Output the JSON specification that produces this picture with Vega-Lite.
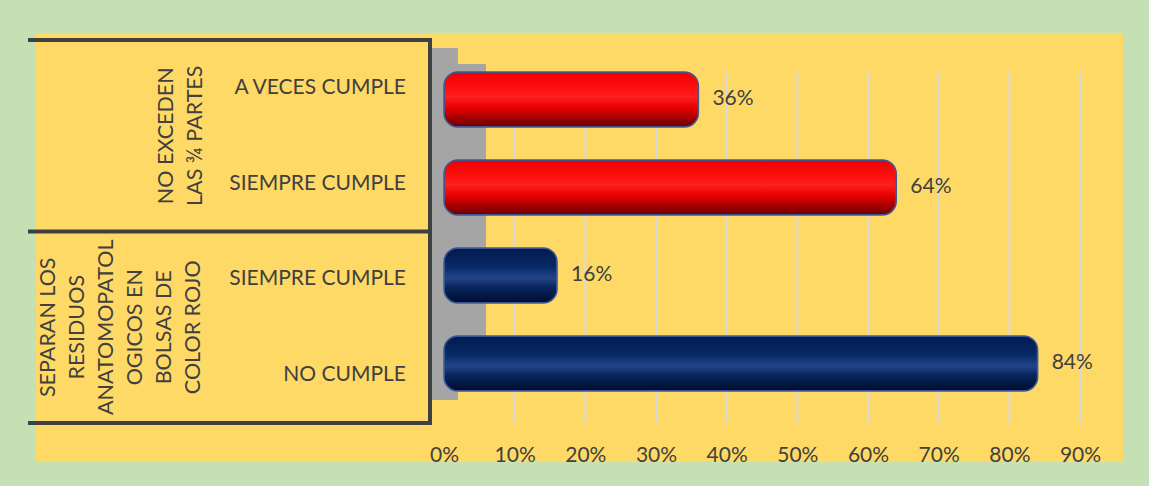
{
  "$schema": "https://vega.github.io/schema/vega-lite/v6.json",
  "width": 1087,
  "height": 429,
  "autosize": {"type": "none"},
  "padding": {"left": 36, "top": 33, "right": 26, "bottom": 24},
  "background": "#c5e0b4",
  "config": {
    "view": {"fill": "#ffd966", "stroke": null},
    "font": "Lato",
    "text": {"font": "Lato", "color": "#404040"},
    "axisX": {"format": ".0%", "title": null, "grid": false, "domain": false, "ticks": false, "tickSize": 0, "labelPadding": 0, "offset": -18, "labelFontSize": 21, "labelColor": "#404040", "labelFont": "Lato", "labelFlush": false, "labelOverlap": false}
  },
  "datasets": {
    "resultados": [
      {"grupo": "NO EXCEDEN LAS ¾ PARTES", "etiqueta": "NO EXCEDEN\nLAS ¾ PARTES", "respuesta": "A VECES CUMPLE", "fila": "NO EXCEDEN – A VECES CUMPLE", "porcentaje": 0.36},
      {"grupo": "NO EXCEDEN LAS ¾ PARTES", "etiqueta": "NO EXCEDEN\nLAS ¾ PARTES", "respuesta": "SIEMPRE CUMPLE", "fila": "NO EXCEDEN – SIEMPRE CUMPLE", "porcentaje": 0.64},
      {"grupo": "SEPARAN LOS RESIDUOS ANATOMOPATOLOGICOS EN BOLSAS DE COLOR ROJO", "etiqueta": "SEPARAN LOS\nRESIDUOS\nANATOMOPATOL\nOGICOS EN\nBOLSAS DE\nCOLOR ROJO", "respuesta": "SIEMPRE CUMPLE", "fila": "SEPARAN – SIEMPRE CUMPLE", "porcentaje": 0.16},
      {"grupo": "SEPARAN LOS RESIDUOS ANATOMOPATOLOGICOS EN BOLSAS DE COLOR ROJO", "etiqueta": "SEPARAN LOS\nRESIDUOS\nANATOMOPATOL\nOGICOS EN\nBOLSAS DE\nCOLOR ROJO", "respuesta": "NO CUMPLE", "fila": "SEPARAN – NO CUMPLE", "porcentaje": 0.84}
    ],
    "marcas": [{"v": 0.1}, {"v": 0.2}, {"v": 0.3}, {"v": 0.4}, {"v": 0.5}, {"v": 0.6}, {"v": 0.7}, {"v": 0.8}, {"v": 0.9}]
  },
  "layer": [
    {
      "layer": [
        {
          "data": {"values": [{}]},
          "mark": {"type": "rect", "fill": "#a5a5a5"},
          "encoding": {
            "x": {"datum": -0.017, "type": "quantitative", "title": null, "scale": {"domain": [-0.5773, 0.9608], "nice": false, "zero": false}},
            "x2": {"datum": 0.0198},
            "y": {"datum": "NO EXCEDEN – A VECES CUMPLE", "type": "nominal", "bandPosition": 0.084, "scale": {"type": "band", "domain": ["NO EXCEDEN – A VECES CUMPLE", "NO EXCEDEN – SIEMPRE CUMPLE", "SEPARAN – SIEMPRE CUMPLE", "SEPARAN – NO CUMPLE"], "paddingInner": 0, "paddingOuter": 0.24, "align": 0.152}, "axis": null},
            "y2": {"datum": "SEPARAN – NO CUMPLE", "bandPosition": 0.76}
          }
        },
        {
          "data": {"values": [{}]},
          "mark": {"type": "rect", "fill": "#a5a5a5"},
          "encoding": {
            "x": {"datum": 0.0198, "type": "quantitative", "title": null, "scale": {"domain": [-0.5773, 0.9608], "nice": false, "zero": false}},
            "x2": {"datum": 0.0594},
            "y": {"datum": "NO EXCEDEN – A VECES CUMPLE", "type": "nominal", "bandPosition": 0.25, "scale": {"type": "band", "domain": ["NO EXCEDEN – A VECES CUMPLE", "NO EXCEDEN – SIEMPRE CUMPLE", "SEPARAN – SIEMPRE CUMPLE", "SEPARAN – NO CUMPLE"], "paddingInner": 0, "paddingOuter": 0.24, "align": 0.152}, "axis": null},
            "y2": {"datum": "SEPARAN – NO CUMPLE", "bandPosition": 0.31}
          }
        },
        {
          "data": {"name": "marcas"},
          "mark": {"type": "rule", "stroke": "#d9d9d9", "strokeWidth": 2},
          "encoding": {
            "x": {"field": "v", "type": "quantitative", "title": null, "scale": {"domain": [-0.5773, 0.9608], "nice": false, "zero": false}},
            "y": {"datum": "NO EXCEDEN – A VECES CUMPLE", "type": "nominal", "bandPosition": 0.334, "scale": {"type": "band", "domain": ["NO EXCEDEN – A VECES CUMPLE", "NO EXCEDEN – SIEMPRE CUMPLE", "SEPARAN – SIEMPRE CUMPLE", "SEPARAN – NO CUMPLE"], "paddingInner": 0, "paddingOuter": 0.24, "align": 0.152}, "axis": null},
            "y2": {"datum": "SEPARAN – NO CUMPLE", "bandPosition": 1}
          }
        },
        {
          "data": {"values": [{}]},
          "mark": {"type": "rule", "stroke": "#404040", "strokeWidth": 4, "strokeCap": "square"},
          "encoding": {
            "x": {"datum": -0.5858, "type": "quantitative", "title": null, "scale": {"domain": [-0.5773, 0.9608], "nice": false, "zero": false}},
            "x2": {"datum": -0.0198},
            "y": {"datum": "NO EXCEDEN – A VECES CUMPLE", "type": "nominal", "bandPosition": 0, "scale": {"type": "band", "domain": ["NO EXCEDEN – A VECES CUMPLE", "NO EXCEDEN – SIEMPRE CUMPLE", "SEPARAN – SIEMPRE CUMPLE", "SEPARAN – NO CUMPLE"], "paddingInner": 0, "paddingOuter": 0.24, "align": 0.152}, "axis": null}
          }
        },
        {
          "data": {"values": [{}]},
          "mark": {"type": "rule", "stroke": "#404040", "strokeWidth": 4, "strokeCap": "square"},
          "encoding": {
            "x": {"datum": -0.5858, "type": "quantitative", "title": null, "scale": {"domain": [-0.5773, 0.9608], "nice": false, "zero": false}},
            "x2": {"datum": -0.0198},
            "y": {"datum": "SEPARAN – SIEMPRE CUMPLE", "type": "nominal", "bandPosition": 0, "scale": {"type": "band", "domain": ["NO EXCEDEN – A VECES CUMPLE", "NO EXCEDEN – SIEMPRE CUMPLE", "SEPARAN – SIEMPRE CUMPLE", "SEPARAN – NO CUMPLE"], "paddingInner": 0, "paddingOuter": 0.24, "align": 0.152}, "axis": null}
          }
        },
        {
          "data": {"values": [{}]},
          "mark": {"type": "rule", "stroke": "#404040", "strokeWidth": 4, "strokeCap": "square"},
          "encoding": {
            "x": {"datum": -0.5858, "type": "quantitative", "title": null, "scale": {"domain": [-0.5773, 0.9608], "nice": false, "zero": false}},
            "x2": {"datum": -0.0198},
            "y": {"datum": "SEPARAN – NO CUMPLE", "type": "nominal", "bandPosition": 1, "scale": {"type": "band", "domain": ["NO EXCEDEN – A VECES CUMPLE", "NO EXCEDEN – SIEMPRE CUMPLE", "SEPARAN – SIEMPRE CUMPLE", "SEPARAN – NO CUMPLE"], "paddingInner": 0, "paddingOuter": 0.24, "align": 0.152}, "axis": null}
          }
        },
        {
          "data": {"values": [{}]},
          "mark": {"type": "rule", "stroke": "#404040", "strokeWidth": 4, "strokeCap": "square"},
          "encoding": {
            "x": {"datum": -0.0198, "type": "quantitative", "title": null, "scale": {"domain": [-0.5773, 0.9608], "nice": false, "zero": false}},
            "y": {"datum": "NO EXCEDEN – A VECES CUMPLE", "type": "nominal", "bandPosition": 0, "scale": {"type": "band", "domain": ["NO EXCEDEN – A VECES CUMPLE", "NO EXCEDEN – SIEMPRE CUMPLE", "SEPARAN – SIEMPRE CUMPLE", "SEPARAN – NO CUMPLE"], "paddingInner": 0, "paddingOuter": 0.24, "align": 0.152}, "axis": null},
            "y2": {"datum": "SEPARAN – NO CUMPLE", "bandPosition": 1}
          }
        },
        {
          "data": {"name": "resultados"},
          "mark": {"type": "text", "align": "right", "baseline": "middle", "fontSize": 21, "font": "Lato", "color": "#404040"},
          "encoding": {
            "x": {"datum": -0.0538, "type": "quantitative", "title": null, "scale": {"domain": [-0.5773, 0.9608], "nice": false, "zero": false}},
            "y": {"field": "fila", "type": "nominal", "scale": {"type": "band", "domain": ["NO EXCEDEN – A VECES CUMPLE", "NO EXCEDEN – SIEMPRE CUMPLE", "SEPARAN – SIEMPRE CUMPLE", "SEPARAN – NO CUMPLE"], "paddingInner": 0, "paddingOuter": 0.24, "align": 0.152}, "axis": null},
            "text": {"field": "respuesta"}
          }
        },
        {
          "data": {"name": "resultados"},
          "transform": [
            {"filter": "datum.grupo === 'NO EXCEDEN LAS ¾ PARTES'"},
            {"window": [{"op": "row_number", "as": "orden"}]},
            {"filter": "datum.orden === 1"}
          ],
          "mark": {"type": "text", "align": "center", "baseline": "bottom", "angle": 270, "fontSize": 21.5, "font": "Lato", "color": "#404040", "lineBreak": "\n", "lineHeight": 29},
          "encoding": {
            "x": {"datum": -0.377, "type": "quantitative", "title": null, "scale": {"domain": [-0.5773, 0.9608], "nice": false, "zero": false}},
            "y": {"field": "fila", "type": "nominal", "bandPosition": 1, "scale": {"type": "band", "domain": ["NO EXCEDEN – A VECES CUMPLE", "NO EXCEDEN – SIEMPRE CUMPLE", "SEPARAN – SIEMPRE CUMPLE", "SEPARAN – NO CUMPLE"], "paddingInner": 0, "paddingOuter": 0.24, "align": 0.152}, "axis": null},
            "text": {"field": "etiqueta"}
          }
        },
        {
          "data": {"name": "resultados"},
          "transform": [
            {"filter": "datum.grupo !== 'NO EXCEDEN LAS ¾ PARTES'"},
            {"window": [{"op": "row_number", "as": "orden"}]},
            {"filter": "datum.orden === 1"}
          ],
          "mark": {"type": "text", "align": "center", "baseline": "bottom", "angle": 270, "fontSize": 21.5, "font": "Lato", "color": "#404040", "lineBreak": "\n", "lineHeight": 29},
          "encoding": {
            "x": {"datum": -0.5439, "type": "quantitative", "title": null, "scale": {"domain": [-0.5773, 0.9608], "nice": false, "zero": false}},
            "y": {"field": "fila", "type": "nominal", "bandPosition": 1, "scale": {"type": "band", "domain": ["NO EXCEDEN – A VECES CUMPLE", "NO EXCEDEN – SIEMPRE CUMPLE", "SEPARAN – SIEMPRE CUMPLE", "SEPARAN – NO CUMPLE"], "paddingInner": 0, "paddingOuter": 0.24, "align": 0.152}, "axis": null},
            "text": {"field": "etiqueta"}
          }
        }
      ]
    },
    {
      "data": {"name": "resultados"},
      "layer": [
        {
          "transform": [{"filter": "datum.grupo === 'NO EXCEDEN LAS ¾ PARTES'"}],
          "mark": {
            "type": "bar", "size": 55, "cornerRadius": 14, "stroke": "#3c5a99", "strokeWidth": 1.5,
            "fill": {"gradient": "linear", "x1": 0, "y1": 0, "x2": 0, "y2": 1, "stops": [
              {"offset": 0, "color": "#f00000"}, {"offset": 0.3, "color": "#ff1010"}, {"offset": 0.45, "color": "#ff2020"}, {"offset": 0.65, "color": "#e80000"}, {"offset": 1, "color": "#6a0000"}]}
          },
          "encoding": {
            "x": {"field": "porcentaje", "type": "quantitative", "title": null, "scale": {"domain": [-0.5773, 0.9608], "nice": false, "zero": false},
              "axis": {"values": [0, 0.1, 0.2, 0.3, 0.4, 0.5, 0.6, 0.7, 0.8, 0.9], "format": ".0%", "title": null, "grid": false, "domain": false, "ticks": false, "labelPadding": 0, "offset": -18, "labelFontSize": 21, "labelColor": "#404040", "labelFont": "Lato", "labelFlush": false, "labelOverlap": false}},
            "y": {"field": "fila", "type": "nominal", "scale": {"type": "band", "domain": ["NO EXCEDEN – A VECES CUMPLE", "NO EXCEDEN – SIEMPRE CUMPLE", "SEPARAN – SIEMPRE CUMPLE", "SEPARAN – NO CUMPLE"], "paddingInner": 0, "paddingOuter": 0.4375, "align": 0.292}, "axis": null}
          }
        },
        {
          "transform": [{"filter": "datum.grupo !== 'NO EXCEDEN LAS ¾ PARTES'"}],
          "mark": {
            "type": "bar", "size": 55, "cornerRadius": 14, "stroke": "#3c5a99", "strokeWidth": 1.5,
            "fill": {"gradient": "linear", "x1": 0, "y1": 0, "x2": 0, "y2": 1, "stops": [
              {"offset": 0, "color": "#001a4d"}, {"offset": 0.35, "color": "#092a68"}, {"offset": 0.55, "color": "#23448a"}, {"offset": 0.7, "color": "#0a2760"}, {"offset": 1, "color": "#000b2e"}]}
          },
          "encoding": {
            "x": {"field": "porcentaje", "type": "quantitative", "title": null, "scale": {"domain": [-0.5773, 0.9608], "nice": false, "zero": false}},
            "y": {"field": "fila", "type": "nominal", "scale": {"type": "band", "domain": ["NO EXCEDEN – A VECES CUMPLE", "NO EXCEDEN – SIEMPRE CUMPLE", "SEPARAN – SIEMPRE CUMPLE", "SEPARAN – NO CUMPLE"], "paddingInner": 0, "paddingOuter": 0.4375, "align": 0.292}, "axis": null}
          }
        },
        {
          "mark": {"type": "text", "align": "left", "baseline": "middle", "dx": 14, "fontSize": 21, "font": "Lato", "color": "#404040"},
          "encoding": {
            "x": {"field": "porcentaje", "type": "quantitative", "title": null, "scale": {"domain": [-0.5773, 0.9608], "nice": false, "zero": false}},
            "y": {"field": "fila", "type": "nominal", "scale": {"type": "band", "domain": ["NO EXCEDEN – A VECES CUMPLE", "NO EXCEDEN – SIEMPRE CUMPLE", "SEPARAN – SIEMPRE CUMPLE", "SEPARAN – NO CUMPLE"], "paddingInner": 0, "paddingOuter": 0.4375, "align": 0.292}, "axis": null},
            "text": {"field": "porcentaje", "format": ".0%"}
          }
        }
      ]
    }
  ],
  "resolve": {"scale": {"y": "independent"}}
}
